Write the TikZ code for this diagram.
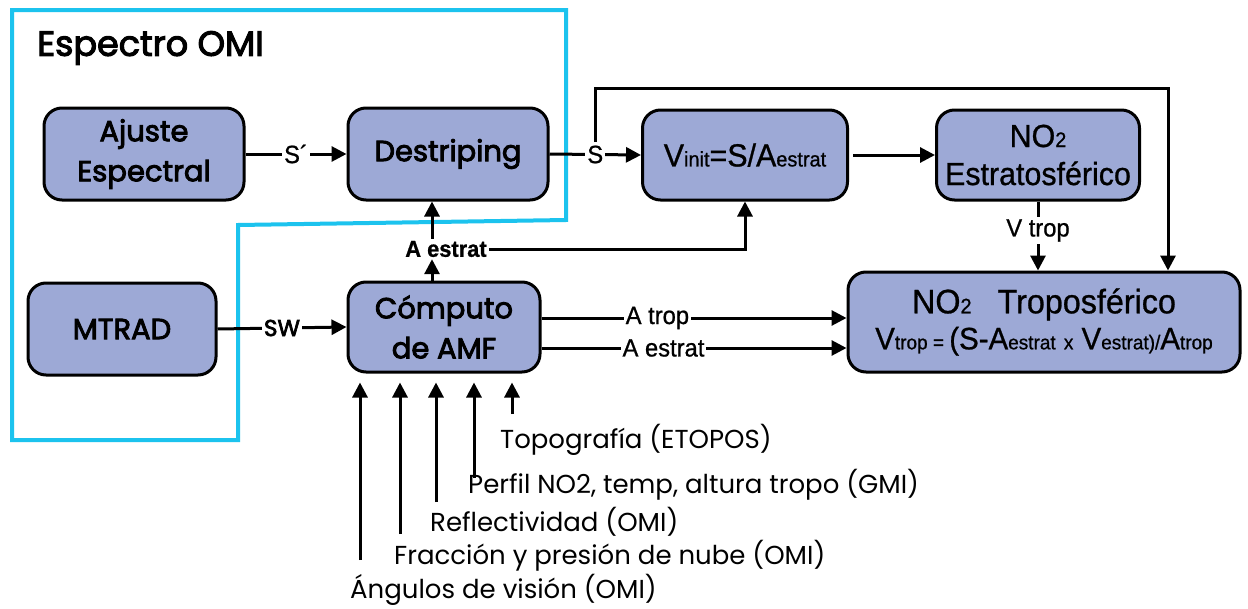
\documentclass[tikz,border=0pt]{standalone}
\usepackage{fontspec}
\setmainfont{Poppins}
\newfontfamily\popsb[FakeBold=3]{Poppins}
\newfontfamily\nar[FakeStretch=0.95,FakeBold=0.8]{Liberation Sans}
\usetikzlibrary{arrows.meta,calc}
\definecolor{boxfill}{HTML}{9DA9D6}
\definecolor{cyanline}{HTML}{1CC3EE}
\newcommand{\sub}[1]{{\fontsize{21}{21}\selectfont #1}}
\newcommand{\subb}[1]{{\fontsize{20}{20}\selectfont #1}}
\begin{document}
\begin{tikzpicture}[x=1pt,y=-1pt,
  box/.style={draw=black,line width=3pt,fill=boxfill,rounded corners=18pt,align=center,inner sep=0pt},
  lbox/.style={box,font=\popsb\fontsize{29}{40}\selectfont},
  rbox/.style={box,font=\nar\fontsize{32}{38}\selectfont},
  conn/.style={line width=3pt,-{Triangle[length=15pt,width=15pt]}},
  lab/.style={fill=white,inner sep=2pt,font=\popsb\fontsize{23}{23}\selectfont},
  nlab/.style={fill=white,inner sep=2pt,font=\nar\fontsize{25}{25}\selectfont},
  blab/.style={anchor=west,inner sep=0pt,font=\fontsize{26}{26}\selectfont}]
\useasboundingbox (0,0) rectangle (1248,608);
\fill[white] (0,0) rectangle (1248,608);
% cyan frame
\draw[cyanline,line width=4pt] (12,10) -- (566,10) -- (566,220) -- (238,225) -- (238,440) -- (12,440) -- cycle;
\node[anchor=west,inner sep=0pt,font=\popsb\fontsize{35}{35}\selectfont] (title) at (37,48) {Espectro OMI};
% boxes
\node[lbox,minimum width=200,minimum height=92] (aj) at (144,154) {Ajuste\\Espectral};
\node[lbox,minimum width=200,minimum height=92] (des) at (448,154) {Destriping};
\node[lbox,minimum width=188,minimum height=92] (mt) at (122,329) {MTRAD};
\node[lbox,minimum width=192,minimum height=90] (amf) at (444,327) {Cómputo\\de AMF};
\node[rbox,minimum width=205,minimum height=90] (vin) at (745,155) {V\sub{init}=S/A\sub{estrat}};
\node[rbox,minimum width=203,minimum height=90] (est) at (1038,155) {NO\sub{2}\\Estratosférico};
\node[box,font=\nar\fontsize{34}{34}\selectfont,minimum width=392,minimum height=100] (tro) at (1044,322) {NO\sub{2}\hspace{26pt}Troposférico\\[2pt]{\fontsize{31}{31}\selectfont V\subb{trop = }(S-A\subb{estrat} \subb{x} V\subb{estrat)/}A\subb{trop}}};
% connectors
\draw[conn] (aj.east) -- node[nlab,pos=0.5]{S´} (des.west);
\draw[conn] (des.east) -- node[nlab,pos=0.5] (slab) {S} (vin.west);
\coordinate (tp) at (1168,88);
\draw[conn] (slab.north) |- (tp) -- (tp |- tro.north);
\draw[conn] (vin.east) ++(4,0) -- (est.west);
\draw[conn] (est.south) -- node[nlab,pos=0.42]{V trop} (est.south |- tro.north);
\draw[conn] (mt.east) -- node[lab,pos=0.5]{SW} (amf.west);
\coordinate (cx) at (432,0);
\node[nlab,font=\nar\bfseries\fontsize{23}{23}\selectfont] (ae1) at (446,249) {A estrat};
\draw[conn] (amf.north -| cx) -- (ae1.south -| cx);
\draw[conn] (ae1.north -| cx) -- (des.south -| cx);
\draw[conn] (ae1.east) -| (vin.south);
\coordinate (r1) at (0,318);
\coordinate (r2) at (0,348);
\draw[conn] (amf.east |- r1) -- node[nlab,pos=0.38]{A trop} (tro.west |- r1);
\draw[conn] (amf.east |- r2) -- node[nlab,pos=0.4]{A estrat} (tro.west |- r2);
% bottom inputs
\node[blab] (b5) at (500,440) {Topografía (ETOPOS)};
\node[blab] (b4) at (468,485) {Perfil NO2, temp, altura tropo (GMI)};
\node[blab] (b3) at (430,522) {Reflectividad (OMI)};
\node[blab] (b2) at (394,556) {Fracción y presión de nube (OMI)};
\node[blab] (b1) at (350,590) {Ángulos de visión (OMI)};
\coordinate (a5) at (512,414);
\coordinate (a4) at (474,478);
\coordinate (a3) at (436,502);
\coordinate (a2) at (400,534);
\coordinate (a1) at (360,560);
\foreach \a in {a1,a2,a3,a4,a5}{
  \draw[conn,shorten >=9pt] (\a) -- (\a |- amf.south);
}
\end{tikzpicture}
\end{document}
